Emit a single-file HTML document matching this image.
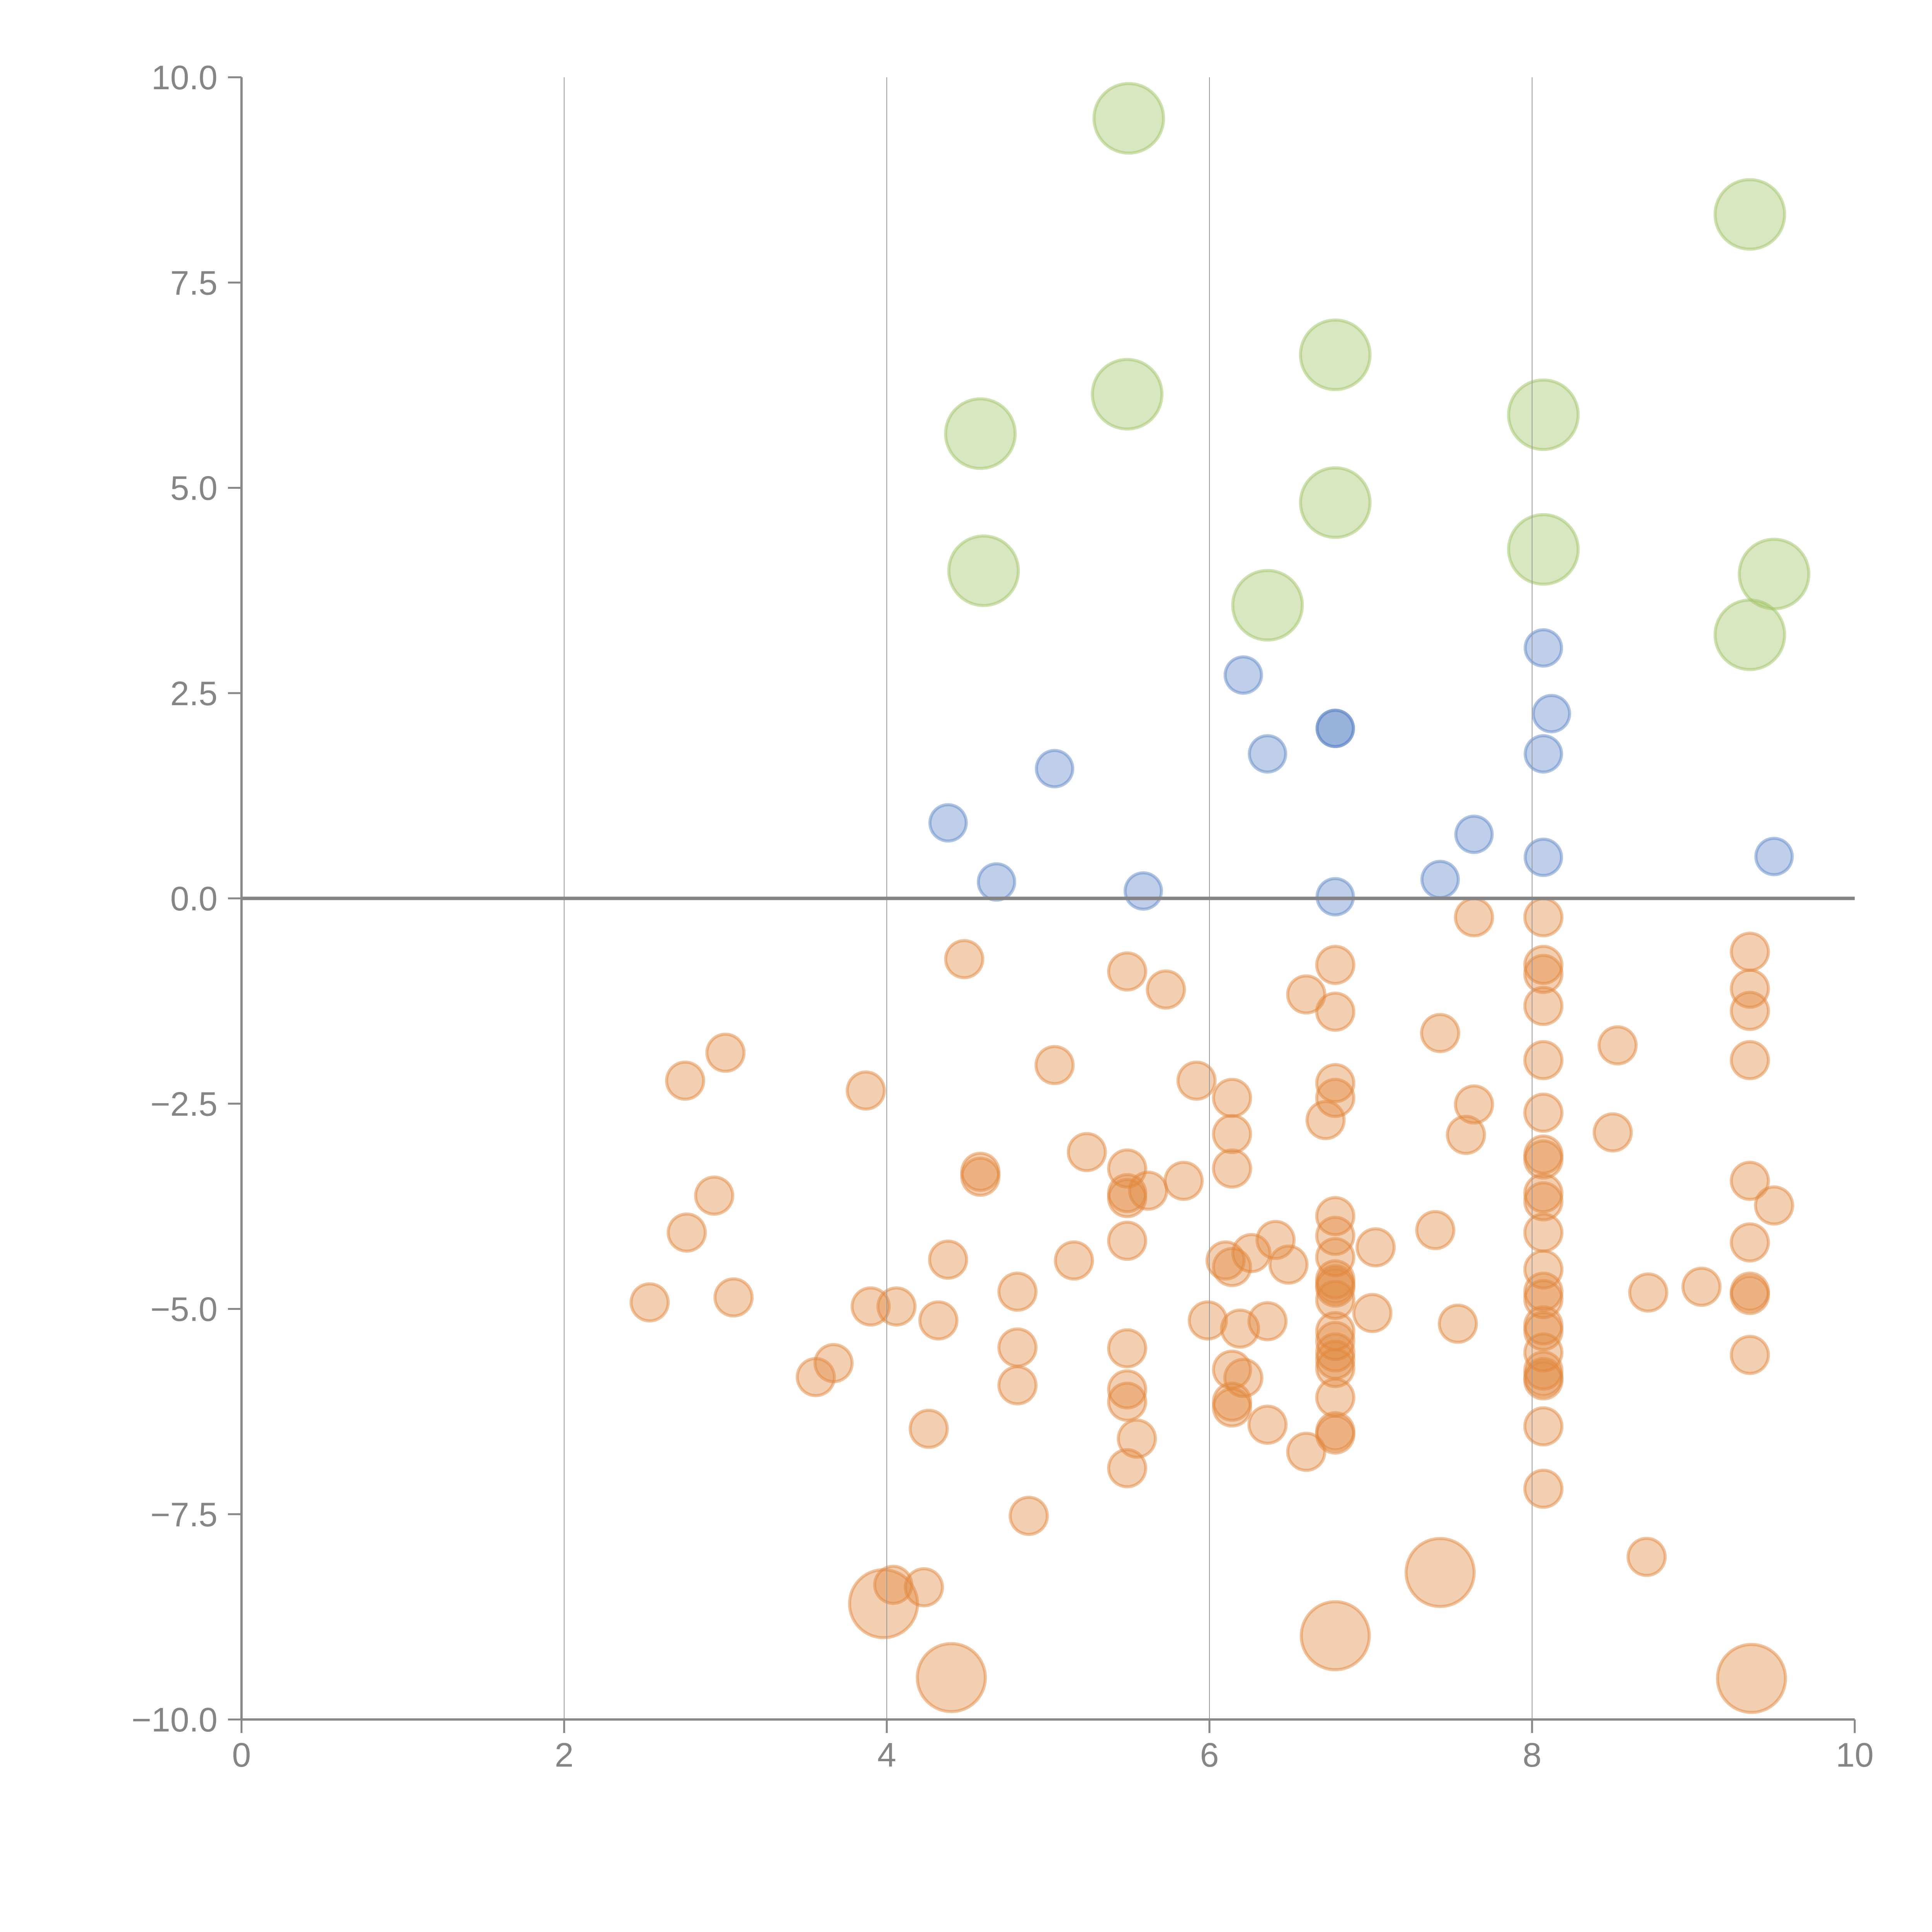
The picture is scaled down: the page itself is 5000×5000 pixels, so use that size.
<!DOCTYPE html>
<html><head><meta charset="utf-8"><style>
html,body{margin:0;padding:0;background:#fff;}
svg{display:block;}
text{font-family:"Liberation Sans",Arial,sans-serif;fill:#858585;}
</style></head>
<body>
<svg id="chart" width="5000" height="5000" viewBox="0 0 5000 5000" xmlns="http://www.w3.org/2000/svg">
<g id="points"></g>
<g id="grid"></g>
<g id="axes"></g>
</svg>
<script>
// ---- data ----
const xTicks = [0, 2, 4, 6, 8, 10];
const xTickLabels = ["0", "2", "4", "6", "8", "10"];
const yTicks = [10, 7.5, 5, 2.5, 0, -2.5, -5, -7.5, -10];
const yTickLabels = ["10.0", "7.5", "5.0", "2.5", "0.0", "\u22122.5", "\u22125.0", "\u22127.5", "\u221210.0"];
const gridX = [2, 4, 6, 8];

const greenX = [5.50, 9.35, 6.78, 5.49, 4.58, 8.07, 6.78, 4.60, 8.07, 6.36, 9.50, 9.35];
const greenY = [9.50, 8.33, 6.62, 6.14, 5.66, 5.89, 4.82, 3.99, 4.25, 3.57, 3.95, 3.21];

const blueX = [8.07, 6.21, 8.12, 6.78, 6.78, 6.36, 8.07, 5.04, 4.38, 7.64, 8.07, 9.50, 4.68, 7.43, 5.59, 6.78];
const blueY = [3.05, 2.72, 2.25, 2.07, 2.07, 1.76, 1.76, 1.58, 0.92, 0.78, 0.50, 0.51, 0.20, 0.23, 0.09, 0.02];

const orangeX = [7.64,8.07,4.48,5.49,6.78,8.07,8.07,9.35,5.73,6.60,9.35,8.07,6.78,9.35,7.43,8.53,3.00,5.04,8.07,9.35,
 2.75,3.87,5.92,6.78,6.14,6.78,7.64,8.07,6.72,8.50,7.59,6.14,5.24,8.07,8.07,4.58,4.58,5.49,6.14,5.84,
 9.35,5.62,5.49,5.49,2.93,8.07,8.07,9.50,6.78,6.41,7.40,2.76,6.78,8.07,5.49,9.35,7.03,6.26,6.78,6.10,
 6.49,6.14,4.38,5.16,8.07,6.78,6.78,6.78,4.81,8.07,8.07,6.78,8.72,9.05,9.35,9.35,2.53,3.05,3.90,4.06,
 7.01,5.99,4.32,6.36,7.54,6.19,8.07,8.07,6.78,6.78,6.78,6.78,4.81,5.49,8.07,9.35,6.14,6.78,3.67,3.56,
 6.21,8.07,8.07,8.07,4.81,5.49,6.14,6.14,5.49,6.78,8.07,4.26,6.36,6.78,6.78,5.55,6.60,5.49,8.07,4.88,
 8.71,4.04,4.23];
const orangeY = [-0.23,-0.23,-0.74,-0.89,-0.81,-0.81,-0.92,-0.65,-1.11,-1.17,-1.10,-1.31,-1.38,-1.37,-1.64,-1.79,-1.88,-2.03,-1.97,-1.97,
 -2.22,-2.34,-2.22,-2.25,-2.43,-2.43,-2.51,-2.61,-2.70,-2.85,-2.88,-2.87,-3.09,-3.12,-3.18,-3.33,-3.39,-3.29,-3.29,-3.44,
 -3.44,-3.56,-3.59,-3.65,-3.62,-3.59,-3.69,-3.74,-3.87,-4.16,-4.04,-4.07,-4.11,-4.07,-4.17,-4.19,-4.25,-4.32,-4.37,-4.41,
 -4.46,-4.49,-4.40,-4.41,-4.52,-4.64,-4.70,-4.74,-4.79,-4.79,-4.88,-4.89,-4.80,-4.73,-4.79,-4.83,-4.92,-4.86,-4.97,-4.97,
 -5.05,-5.14,-5.14,-5.15,-5.18,-5.24,-5.20,-5.27,-5.27,-5.39,-5.53,-5.62,-5.47,-5.48,-5.53,-5.56,-5.74,-5.72,-5.66,-5.83,
 -5.84,-5.75,-5.83,-5.87,-5.93,-5.98,-6.13,-6.20,-6.13,-6.08,-6.43,-6.46,-6.41,-6.49,-6.53,-6.58,-6.74,-6.94,-7.19,-7.52,
 -8.02,-8.36,-8.39];

const orangeBigX = [3.98, 4.40, 7.43, 6.78, 9.36];
const orangeBigY = [-8.59, -9.49, -8.21, -8.98, -9.50];

// ---- scales ----
const X0 = 625, X1 = 4800, Y0 = 200, Y1 = 4450;
function sx(v){ return X0 + (v - 0) / 10 * (X1 - X0); }
function sy(v){ return Y0 + (10 - v) / 20 * (Y1 - Y0); }

const NS = "http://www.w3.org/2000/svg";
function mk(tag, parent){ const e = document.createElementNS(NS, tag); parent.appendChild(e); return e; }

const pts = document.getElementById('points');
function drawSeries(xs, ys, r, rgb, name){
  const g = mk('g', pts);
  
  
  for (let i = 0; i < xs.length; i++){
    const c = mk('circle', g);
    
    
    c.setAttribute('cx', sx(xs[i]));
    c.setAttribute('cy', sy(ys[i]));
    c.setAttribute('r', r);
    c.setAttribute('fill', 'rgb(' + rgb + ')');
    c.setAttribute('fill-opacity', '0.4');
    c.setAttribute('stroke', 'rgb(' + rgb + ')');
    c.setAttribute('stroke-opacity', '0.5');
    c.setAttribute('stroke-width', '8');
  }
}
drawSeries(greenX, greenY, 90, '160,195,100', 'green');
drawSeries(blueX, blueY, 47, '95,135,200', 'blue');
drawSeries(orangeX, orangeY, 48, '225,135,60', 'orange');
drawSeries(orangeBigX, orangeBigY, 88, '225,135,60', 'orange-large');

// grid
const grid = document.getElementById('grid');
gridX.forEach(v => {
  const l = mk('line', grid);
  
  
  l.setAttribute('x1', sx(v)); l.setAttribute('x2', sx(v));
  l.setAttribute('y1', Y0); l.setAttribute('y2', Y1);
  l.setAttribute('stroke', '#999'); l.setAttribute('stroke-width', '2');
});
const zl = mk('line', grid);


zl.setAttribute('x1', X0); zl.setAttribute('x2', X1);
zl.setAttribute('y1', sy(0)); zl.setAttribute('y2', sy(0));
zl.setAttribute('stroke', '#858585'); zl.setAttribute('stroke-width', '9');

// axes
const axes = document.getElementById('axes');
const ya = mk('line', axes);


ya.setAttribute('x1', X0); ya.setAttribute('x2', X0); ya.setAttribute('y1', Y0); ya.setAttribute('y2', Y1);
ya.setAttribute('stroke', '#888'); ya.setAttribute('stroke-width', '6');
const xa = mk('line', axes);


xa.setAttribute('x1', X0); xa.setAttribute('x2', X1); xa.setAttribute('y1', Y1); xa.setAttribute('y2', Y1);
xa.setAttribute('stroke', '#888'); xa.setAttribute('stroke-width', '6');

yTicks.forEach((v, i) => {
  const t = mk('line', axes);
  
  
  t.setAttribute('x1', X0 - 35); t.setAttribute('x2', X0);
  t.setAttribute('y1', sy(v)); t.setAttribute('y2', sy(v));
  t.setAttribute('stroke', '#888'); t.setAttribute('stroke-width', '5');
  const tx = mk('text', axes);
  
  
  tx.setAttribute('x', 563); tx.setAttribute('y', sy(v) + 31);
  tx.setAttribute('text-anchor', 'end');
  tx.setAttribute('font-size', '88');
  tx.textContent = yTickLabels[i];
});
xTicks.forEach((v, i) => {
  const t = mk('line', axes);
  
  
  t.setAttribute('x1', sx(v)); t.setAttribute('x2', sx(v));
  t.setAttribute('y1', Y1); t.setAttribute('y2', Y1 + 35);
  t.setAttribute('stroke', '#888'); t.setAttribute('stroke-width', '5');
  const tx = mk('text', axes);
  
  
  tx.setAttribute('x', sx(v)); tx.setAttribute('y', 4572);
  tx.setAttribute('text-anchor', 'middle');
  tx.setAttribute('font-size', '88');
  tx.textContent = xTickLabels[i];
});
</script>
</body></html>
